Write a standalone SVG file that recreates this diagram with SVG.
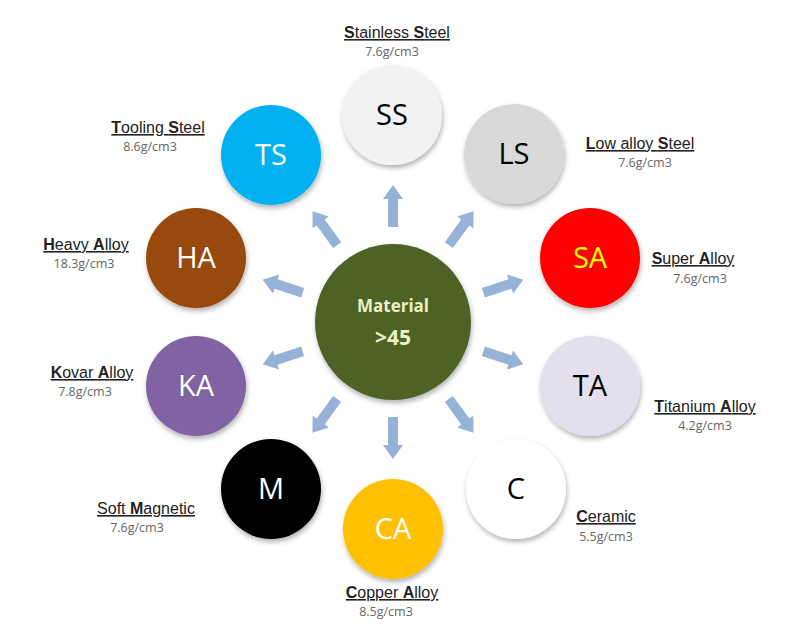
<svg xmlns="http://www.w3.org/2000/svg" width="800" height="640" viewBox="0 0 800 640">
<style>
.lbl{font-family:"Liberation Sans",Arial,sans-serif;font-size:16px;fill:#222;text-decoration:underline;text-anchor:middle}
.lbl tspan.b{font-weight:bold}
.den{font-family:"Open Sans","DejaVu Sans",sans-serif;font-size:12.5px;fill:#666;text-anchor:middle}
.ab{font-family:"Open Sans","Noto Sans",sans-serif;font-size:29px;text-anchor:middle}
</style>
<defs>
<filter id="sh" x="-20%" y="-20%" width="140%" height="140%"><feDropShadow dx="1" dy="3" stdDeviation="2.5" flood-color="#000" flood-opacity="0.3"/></filter>
<path id="ar" d="M95,-5 H123 V-10 L137,0 L123,10 V5 H95 Z" fill="#95b3d7"/>
</defs>
<rect width="800" height="640" fill="#fff"/>
<g id="connectors" transform="translate(393,322)">
<use href="#ar" transform="rotate(-90)"/><use href="#ar" transform="rotate(-54)"/><use href="#ar" transform="rotate(-18)"/><use href="#ar" transform="rotate(18)"/><use href="#ar" transform="rotate(54)"/><use href="#ar" transform="rotate(90)"/><use href="#ar" transform="rotate(126)"/><use href="#ar" transform="rotate(162)"/><use href="#ar" transform="rotate(198)"/><use href="#ar" transform="rotate(234)"/>
</g>
<g id="center"><circle cx="393" cy="322" r="78" fill="#4f6228" filter="url(#sh)"/>
<text x="393" y="312" font-family="Open Sans,sans-serif" font-weight="bold" font-size="17" fill="#ebf1c5" text-anchor="middle">Material</text>
<text x="393" y="345" font-family="Open Sans,sans-serif" font-weight="bold" font-size="21" fill="#ebf1c5" text-anchor="middle">&gt;45</text></g>
<g id="SS"><circle cx="392" cy="115" r="50" fill="#f2f2f2" filter="url(#sh)"/><text class="ab" x="392" y="125">SS</text>
<text class="lbl" x="397" y="38"><tspan class="b">S</tspan>tainless <tspan class="b">S</tspan>teel</text><text class="den" x="392" y="56">7.6g/cm3</text></g>
<g id="LS"><circle cx="514" cy="154" r="50" fill="#d9d9d9" filter="url(#sh)"/><text class="ab" x="514" y="164">LS</text>
<text class="lbl" x="640" y="149"><tspan class="b">L</tspan>ow alloy <tspan class="b">S</tspan>teel</text><text class="den" x="645" y="167">7.6g/cm3</text></g>
<g id="SA"><circle cx="590" cy="258" r="50" fill="#ff0000" filter="url(#sh)"/><text class="ab" x="590" y="268" fill="#ffff00">SA</text>
<text class="lbl" x="693" y="264"><tspan class="b">S</tspan>uper <tspan class="b">A</tspan>lloy</text><text class="den" x="700" y="283">7.6g/cm3</text></g>
<g id="TA"><circle cx="590" cy="386" r="50" fill="#e4dfec" filter="url(#sh)"/><text class="ab" x="590" y="396">TA</text>
<text class="lbl" x="705" y="412"><tspan class="b">T</tspan>itanium <tspan class="b">A</tspan>lloy</text><text class="den" x="705" y="430">4.2g/cm3</text></g>
<g id="C"><circle cx="516" cy="489" r="50" fill="#ffffff" filter="url(#sh)"/><text class="ab" x="516" y="499">C</text>
<text class="lbl" x="606" y="522"><tspan class="b">C</tspan>eramic</text><text class="den" x="606" y="541">5.5g/cm3</text></g>
<g id="CA"><circle cx="393" cy="529" r="50" fill="#ffc000" filter="url(#sh)"/><text class="ab" x="393" y="539" fill="#fff">CA</text>
<text class="lbl" x="392" y="598"><tspan class="b">C</tspan>opper <tspan class="b">A</tspan>lloy</text><text class="den" x="386" y="616">8.5g/cm3</text></g>
<g id="M"><circle cx="271" cy="489" r="50" fill="#000" filter="url(#sh)"/><text class="ab" x="271" y="499" fill="#fff">M</text>
<text class="lbl" x="146" y="514">Soft <tspan class="b">M</tspan>agnetic</text><text class="den" x="137" y="532">7.6g/cm3</text></g>
<g id="KA"><circle cx="196" cy="386" r="50" fill="#8064a2" filter="url(#sh)"/><text class="ab" x="196" y="396" fill="#fff">KA</text>
<text class="lbl" x="92" y="378"><tspan class="b">K</tspan>ovar <tspan class="b">A</tspan>lloy</text><text class="den" x="85" y="396">7.8g/cm3</text></g>
<g id="HA"><circle cx="196" cy="258" r="50" fill="#984807" filter="url(#sh)"/><text class="ab" x="196" y="268" fill="#fff">HA</text>
<text class="lbl" x="86" y="250"><tspan class="b">H</tspan>eavy <tspan class="b">A</tspan>lloy</text><text class="den" x="84" y="268">18.3g/cm3</text></g>
<g id="TS"><circle cx="271" cy="155" r="50" fill="#00b0f0" filter="url(#sh)"/><text class="ab" x="271" y="165" fill="#fff">TS</text>
<text class="lbl" x="158" y="133"><tspan class="b">T</tspan>ooling <tspan class="b">S</tspan>teel</text><text class="den" x="150" y="151">8.6g/cm3</text></g>
</svg>
